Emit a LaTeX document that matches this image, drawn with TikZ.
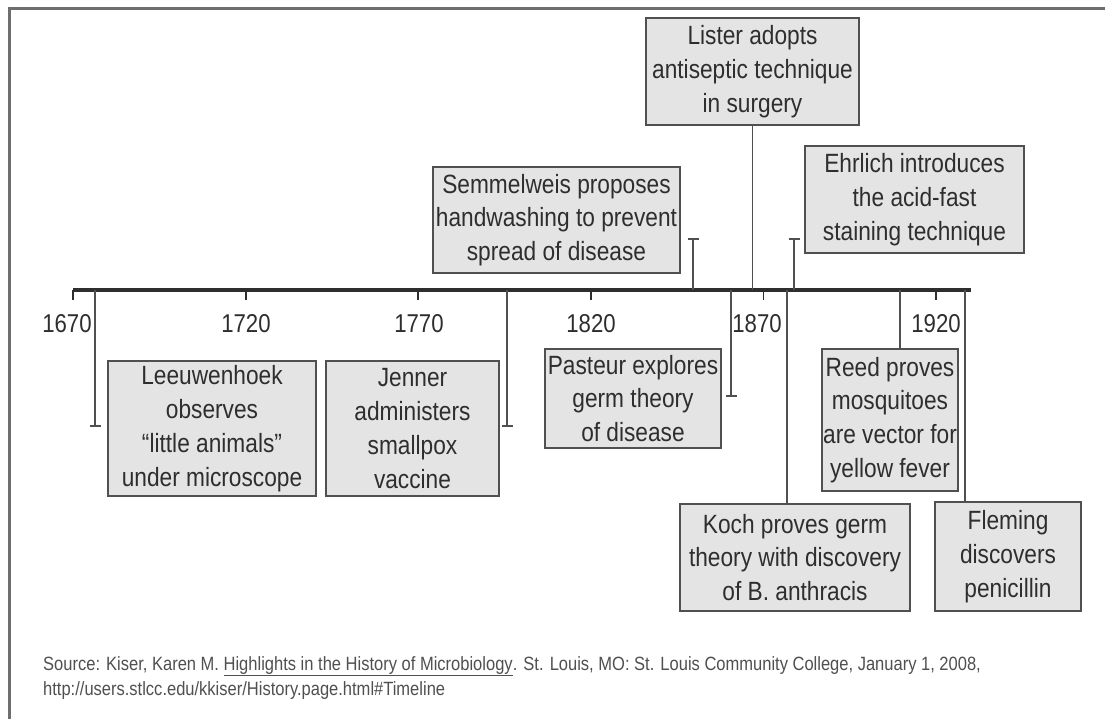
\documentclass[tikz,border=0pt]{standalone}
\usepackage{fontspec}
\setmainfont{Liberation Sans}[FakeStretch=0.86]
\usetikzlibrary{arrows.meta}
\definecolor{boxfill}{HTML}{E4E4E4}
\definecolor{boxline}{HTML}{505050}
\definecolor{ink}{HTML}{2E2E2E}
\definecolor{framegray}{HTML}{6E6E6E}
\definecolor{srcgray}{HTML}{505050}
\begin{document}
\begin{tikzpicture}[x=1pt,y=-1pt,
  eventbox/.style={draw=boxline, line width=1.8pt, fill=boxfill, text=ink,
    align=center, inner sep=0pt, font=\fontsize{26.4}{33.8}\selectfont},
  conn/.style={draw=boxline, line width=1.8pt},
  capped/.style={conn, -{Bar[width=11pt,line width=1.8pt]}},
  axisline/.style={draw=ink, line width=3.6pt},
  yeartick/.style={draw=ink, line width=1.8pt},
  yearlabel/.style={text=ink, inner sep=0pt, font=\fontsize{25.8}{28}\selectfont},
  srctext/.style={text=srcgray, inner sep=0pt, anchor=base west,
    font=\fontsize{19.2}{24}\selectfont}]
% page and frame
\fill[white] (0,0) rectangle (1105,719);
\useasboundingbox (0,0) rectangle (1105,719);
\draw[framegray, line width=3pt] (9,719) -- (9,9) -- (1105,9);

% time axis
\coordinate (axL) at (73,290);
\coordinate (axR) at (971,290);
\draw[axisline] (axL) -- (axR);

% year ticks and labels
\foreach \yr/\tx/\lx in {1670/73/67, 1720/245.6/246, 1770/418.2/419,
                         1820/590.8/591, 1870/763.4/757, 1920/936/936} {
  \coordinate (t\yr) at (\tx,290);
  \draw[yeartick] (t\yr) -- ++(0,10);
  \node[yearlabel] (l\yr) at (\lx,324) {\yr};
}

% event boxes
\node[eventbox, minimum width=213pt, minimum height=107pt] (lister) at (752.5,71.5)
  {Lister adopts\\antiseptic technique\\in surgery};
\node[eventbox, minimum width=247pt, minimum height=106pt] (semmelweis) at (556.5,220)
  {Semmelweis proposes\\handwashing to prevent\\spread of disease};
\node[eventbox, minimum width=219pt, minimum height=107pt] (ehrlich) at (914.5,199.5)
  {Ehrlich introduces\\the acid-fast\\staining technique};
\node[eventbox, minimum width=208pt, minimum height=135pt] (leeuwenhoek) at (212,428.5)
  {Leeuwenhoek\\observes\\“little animals”\\under microscope};
\node[eventbox, minimum width=173pt, minimum height=135pt] (jenner) at (412.5,428.5)
  {Jenner\\administers\\smallpox\\vaccine};
\node[eventbox, minimum width=176pt, minimum height=99pt] (pasteur) at (633,398.5)
  {Pasteur explores\\germ theory\\of disease};
\node[eventbox, minimum width=230pt, minimum height=107pt] (koch) at (795,557.5)
  {Koch proves germ\\theory with discovery\\of B. anthracis};
\node[eventbox, minimum width=136pt, minimum height=142pt] (reed) at (890,420)
  {Reed proves\\mosquitoes\\are vector for\\yellow fever};
\node[eventbox, minimum width=146pt, minimum height=109pt] (fleming) at (1008,556.5)
  {Fleming\\discovers\\penicillin};

% points where the events meet the axis
\coordinate (aLeeu) at (95,290);
\coordinate (aJenner) at (507,290);
\coordinate (aSemm) at (693,290);
\coordinate (aPasteur) at (731,290);
\coordinate (aLister) at (752.5,290);
\coordinate (aKoch) at (787,290);
\coordinate (aEhrlich) at (794,290);
\coordinate (aReed) at (900,290);
\coordinate (aFleming) at (965,290);

% free ends of the capped connectors
\coordinate (eLeeu) at (95,427);
\coordinate (eJenner) at (507,427);
\coordinate (eSemm) at (693,238);
\coordinate (ePasteur) at (731,397);
\coordinate (eEhrlich) at (794,238);

% connectors
\draw[capped] (aLeeu) -- (eLeeu);
\draw[capped] (aJenner) -- (eJenner);
\draw[capped] (aSemm) -- (eSemm);
\draw[capped] (aPasteur) -- (ePasteur);
\draw[capped] (aEhrlich) -- (eEhrlich);
\draw[conn] (aLister) -- (lister.south);
\draw[conn] (aKoch) -- (aKoch |- koch.north);
\draw[conn] (aReed) -- (aReed |- reed.north);
\draw[conn] (aFleming) -- (aFleming |- fleming.north);

% source note
\node[srctext] (src1) at (43,670)
  {Source: Kiser, Karen M. \underline{Highlights in the History of Microbiology}. St. Louis, MO: St. Louis Community College, January 1, 2008,};
\node[srctext] (src2) at (43,695)
  {http://users.stlcc.edu/kkiser/History.page.html\#Timeline};
\end{tikzpicture}
\end{document}
